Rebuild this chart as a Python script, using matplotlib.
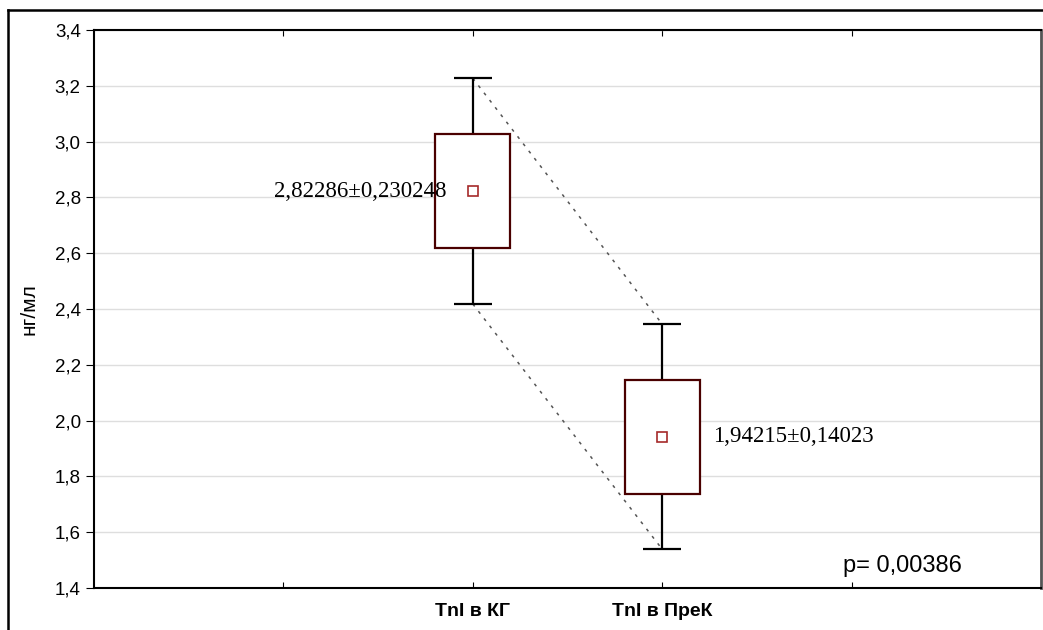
import numpy as np
import matplotlib
matplotlib.use('Agg')
import matplotlib.pyplot as plt
from matplotlib.lines import Line2D

plt.rcParams['font.family'] = ['Liberation Sans', 'DejaVu Sans']

# data
groups = ['TnI в КГ', 'TnI в ПреК']
means = [2.82286, 1.94215]
box_lo = [2.620, 1.738]
box_hi = [3.028, 2.146]
whisk_lo = [2.418, 1.539]
whisk_hi = [3.227, 2.346]
labels = ['2,82286±0,230248', '1,94215±0,14023']
p_text = 'p= 0,00386'
yticks = [1.4, 1.6, 1.8, 2.0, 2.2, 2.4, 2.6, 2.8, 3.0, 3.2, 3.4]

x = np.array([1, 2])

fig = plt.figure(figsize=(10.43, 6.30), dpi=100)
ax = fig.add_axes([94/1043, 42/630, (1041-94)/1043, (588-30)/630])

ax.set_ylim(1.4, 3.4)
ax.set_xlim(-1, 4)
ax.set_yticks(yticks)
ax.set_yticklabels([f'{v:.1f}'.replace('.', ',') for v in yticks], fontsize=13.5)
ax.yaxis.grid(True, color='#dedede', lw=1)
ax.set_axisbelow(True)

ax.set_xticks([0, 1, 2, 3])
ax.set_xticklabels(['', groups[0], groups[1], ''], fontsize=14, fontweight='bold')
ax.tick_params(axis='x', direction='in', top=True, length=4, pad=11)
ax.tick_params(axis='y', direction='out', right=False, length=6)
ax.set_ylabel('нг/мл', fontsize=15, labelpad=12)

for s in ['left', 'bottom', 'top']:
    ax.spines[s].set_linewidth(1.5)
ax.spines['right'].set_color('#555555')
ax.spines['right'].set_linewidth(2)

# dotted connectors between whisker ends
ax.plot(x, whisk_hi, ls=(0, (2, 4)), color='#555555', lw=1.1, zorder=2)
ax.plot(x, whisk_lo, ls=(0, (2, 4)), color='#555555', lw=1.1, zorder=2)

# whiskers
ax.vlines(x, whisk_lo, box_lo, color='black', lw=1.6, zorder=3)
ax.vlines(x, box_hi, whisk_hi, color='black', lw=1.6, zorder=3)
ax.hlines(whisk_lo, x - 0.1, x + 0.1, color='black', lw=1.6, zorder=3)
ax.hlines(whisk_hi, x - 0.1, x + 0.1, color='black', lw=1.6, zorder=3)

# boxes
ax.bar(x, np.array(box_hi) - np.array(box_lo), bottom=box_lo, width=0.395,
       color='white', edgecolor='#4a0000', lw=1.6, zorder=4)

# means
ax.plot(x, means, 's', ms=7, mfc='white', mec='#a52a2a', mew=1.2, zorder=5)

ax.text(0.86, means[0], labels[0], ha='right', va='center',
        family='Liberation Serif', fontsize=16.5, zorder=6)
ax.text(2.27, means[1], labels[1], ha='left', va='center',
        family='Liberation Serif', fontsize=16.5, zorder=6)
ax.text(2.955, 1.478, p_text, ha='left', va='center', fontsize=17)

# outer frame
fig.add_artist(Line2D([8/1043, 8/1043], [0, 620/630], color='black', lw=1.8))
fig.add_artist(Line2D([8/1043, 1], [620/630, 620/630], color='black', lw=1.8))

fig.savefig('out.png', dpi=100)
